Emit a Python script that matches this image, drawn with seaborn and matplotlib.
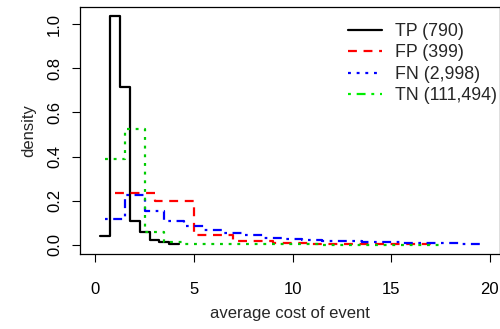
import numpy as np
import pandas as pd
import matplotlib
matplotlib.use("Agg")
import matplotlib.pyplot as plt
from matplotlib.lines import Line2D
import seaborn as sns

# ---- data ----
tp_x = [0.25, 0.75, 1.25, 1.75, 2.25, 2.75, 3.25, 3.75, 4.25]
tp_y = [0.04, 1.035, 0.713, 0.11, 0.06, 0.022, 0.012, 0.006, 0.006]

fp_x = [1, 3, 5, 7, 9, 11, 13, 15, 17]
fp_y = [0.233, 0.2, 0.045, 0.02, 0.008, 0.006, 0.004, 0.002, 0.002]

fn_x = [0.5, 1.5, 2.5, 3.5, 4.5, 5.5, 6.5, 7.5, 8.5, 9.5, 10.5, 11.5, 12.5,
        13.5, 14.5, 15.5, 16.5, 17.5, 18.5, 19.5]
fn_y = [0.116, 0.226, 0.155, 0.11, 0.085, 0.067, 0.055, 0.044, 0.033, 0.026,
        0.022, 0.019, 0.017, 0.015, 0.013, 0.011, 0.009, 0.008, 0.006, 0.006]

tn_x = [0.5, 1.5, 2.5, 3.5, 4.5, 5.5, 6.5, 7.5, 8.5, 9.5, 10.5, 11.5, 12.5,
        13.5, 14.5, 15.5, 16.5, 17.5]
tn_y = [0.39, 0.525, 0.06, 0.012, 0.006, 0.004, 0.003, 0.002, 0.002, 0.002,
        0.002, 0.001, 0.001, 0.001, 0.001, 0.001, 0.001, 0.001]

labels = ["TP (790)", "FP (399)", "FN (2,998)", "TN (111,494)"]
x_ticks = [0, 5, 10, 15, 20]
y_ticks = [0.0, 0.2, 0.4, 0.6, 0.8, 1.0]

sns.set_style("ticks")
plt.rcParams['font.family'] = ['Liberation Sans', 'DejaVu Sans']
plt.rcParams['font.size'] = 12

fig = plt.figure(figsize=(5.0, 3.29), dpi=100)
ax = fig.add_axes([0.16, 0.228, 0.839, 0.7507])

lw = 1.6
series = [
    (tp_x, tp_y, "black", "-"),
    (fp_x, fp_y, "#FF0000", (0, (4, 3))),
    (fn_x, fn_y, "#0000FF", (0, (1.2, 2.5, 4, 2.5))),
    (tn_x, tn_y, "#00CC00", (0, (1.3, 2.6))),
]
for (xs, ys, col, ls), lab in zip(series, labels):
    df = pd.DataFrame({"x": xs, "y": ys})
    sns.lineplot(data=df, x="x", y="y", ax=ax, color=col, linestyle=ls,
                 linewidth=lw, drawstyle="steps-post", estimator=None,
                 sort=False)

ax.set_xlim(-0.78, 20.5)
ax.set_ylim(-0.041, 1.077)
ax.set_xticks(x_ticks)
ax.set_xticklabels([str(t) for t in x_ticks])
ax.set_yticks(y_ticks)
ax.set_yticklabels([f"{t:.1f}" for t in y_ticks], rotation=90, va="center")
ax.tick_params(direction="out", length=6, width=0.8, colors="black",
               labelsize=12)
ax.tick_params(axis="x", pad=14)
ax.tick_params(axis="y", pad=7)
for s in ax.spines.values():
    s.set_visible(True)
    s.set_linewidth(0.9)
    s.set_color("black")
ax.set_xlabel("average cost of event", fontsize=12, labelpad=7)
ax.set_ylabel("density", fontsize=12, labelpad=8)

handles = [
    Line2D([], [], color="black", lw=lw, ls="-"),
    Line2D([], [], color="#FF0000", lw=lw, ls=(0, (4, 3))),
    Line2D([], [], color="#0000FF", lw=lw, ls=(0, (1.3, 2.6))),
    Line2D([], [], color="#00EE00", lw=lw, ls=(0, (1.3, 2.6, 4, 2.6))),
]
fig.legend(handles, labels, loc="upper left", bbox_to_anchor=(0.682, 0.952),
           frameon=False, fontsize=12.8, handlelength=1.9, handletextpad=0.75,
           labelspacing=0.25, borderaxespad=0)

fig.savefig("out.png", dpi=100)
